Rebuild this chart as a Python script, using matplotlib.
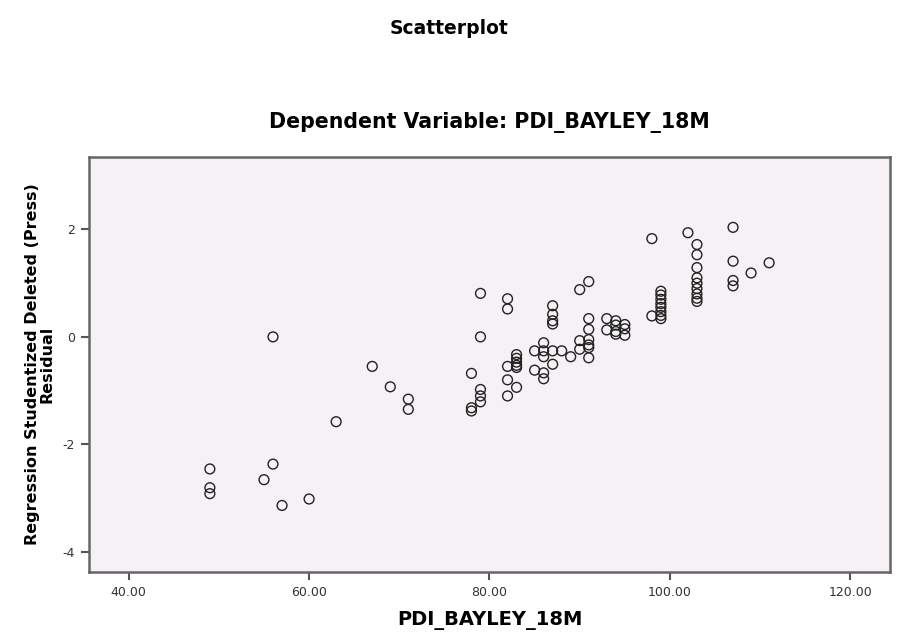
import matplotlib.pyplot as plt
from matplotlib.ticker import FormatStrFormatter

plt.rcParams['axes.unicode_minus'] = False
plt.rcParams['font.family'] = ['DejaVu Sans']

# PDI_BAYLEY_18M and studentized deleted residual
pdi = [49, 49, 49, 55, 56, 56, 57, 60, 63, 67, 69, 71, 71,
       78, 78, 78, 79, 79, 79, 79, 79,
       82, 82, 82, 82, 82, 83, 83, 83, 83, 83, 83,
       85, 85, 86, 86, 86, 86, 86, 87, 87, 87, 87, 87, 87,
       88, 89, 90, 90, 90, 91, 91, 91, 91, 91, 91, 91,
       93, 93, 94, 94, 94, 94, 95, 95, 95,
       98, 98, 99, 99, 99, 99, 99, 99, 99, 99,
       102, 103, 103, 103, 103, 103, 103, 103, 103, 103,
       107, 107, 107, 107, 109, 111]
resid = [-2.46, -2.81, -2.92, -2.66, -2.37, 0.0, -3.14, -3.02, -1.58, -0.55, -0.93, -1.16, -1.35,
         -0.68, -1.32, -1.38, 0.81, 0.0, -0.98, -1.21, -1.10,
         0.71, 0.52, -0.55, -0.80, -1.10, -0.33, -0.40, -0.47, -0.53, -0.57, -0.94,
         -0.26, -0.62, -0.11, -0.26, -0.37, -0.67, -0.78, 0.58, 0.42, 0.30, 0.24, -0.26, -0.51,
         -0.26, -0.37, 0.88, -0.07, -0.23, 1.03, 0.34, 0.14, -0.05, -0.15, -0.20, -0.39,
         0.34, 0.13, 0.30, 0.22, 0.10, 0.05, 0.23, 0.15, 0.03,
         1.83, 0.39, 0.85, 0.78, 0.70, 0.62, 0.55, 0.47, 0.40, 0.34,
         1.94, 1.72, 1.53, 1.29, 1.10, 1.00, 0.90, 0.80, 0.72, 0.66,
         2.04, 1.41, 1.05, 0.95, 1.19, 1.38]
x_ticks = [40, 60, 80, 100, 120]
y_ticks = [-4, -2, 0, 2]

fig = plt.figure(figsize=(8.98, 6.37), dpi=100)
fig.patch.set_facecolor('white')
ax = fig.add_axes([0.0991, 0.102, 0.892, 0.6515])
ax.set_facecolor('#f5f1f5')

ax.scatter(pdi, resid, s=50, facecolors='none', edgecolors='#222222', linewidths=1.0)

ax.set_xlim(35.6, 124.4)
ax.set_ylim(-4.38, 3.35)
ax.set_xticks(x_ticks)
ax.set_yticks(y_ticks)
ax.xaxis.set_major_formatter(FormatStrFormatter('%.2f'))
ax.tick_params(direction='out', length=6, width=1.5, color='#555555',
               labelsize=9, labelcolor='#333333', top=False, right=False, pad=4)

for sp in ax.spines.values():
    sp.set_color('#666666')
    sp.set_linewidth(1.8)

ax.set_xlabel('PDI_BAYLEY_18M', fontsize=14, fontweight='bold', labelpad=9)
ax.set_ylabel('Regression Studentized Deleted (Press)\nResidual', fontsize=11.5,
              fontweight='bold', labelpad=6, linespacing=0.95)
ax.set_title('Dependent Variable: PDI_BAYLEY_18M', fontsize=14.8, fontweight='bold', pad=21)
fig.text(0.5, 0.955, 'Scatterplot', ha='center', va='center', fontsize=13.5,
         fontweight='bold')

fig.savefig('out.png', dpi=100)
